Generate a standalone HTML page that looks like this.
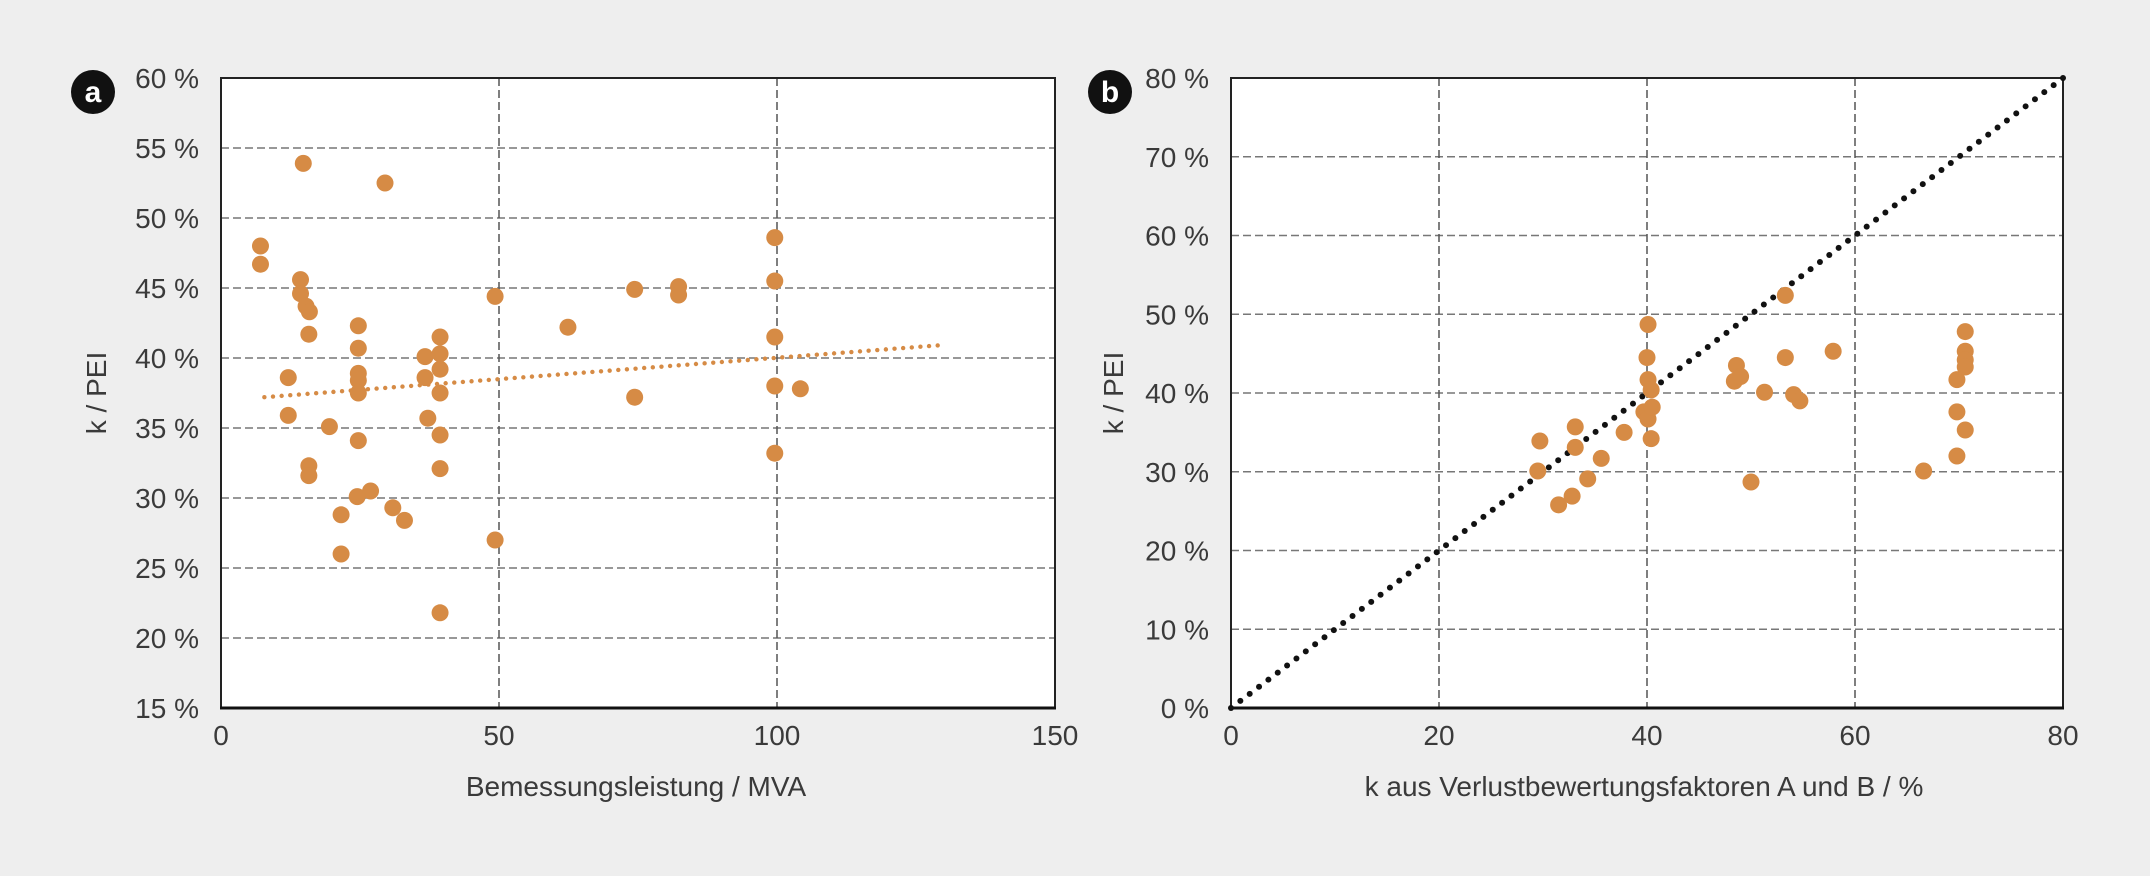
<!DOCTYPE html>
<html><head><meta charset="utf-8"><style>
html,body{margin:0;padding:0;background:#eeeeee;}
svg{display:block;}
text{font-family:"Liberation Sans","DejaVu Sans",sans-serif;fill:#3a3a3a;}
</style></head><body>
<svg id="chart" width="2150" height="876" viewBox="0 0 2150 876" xmlns="http://www.w3.org/2000/svg">
<rect width="2150" height="876" fill="#eeeeee"/>
<g id="ga"></g>
<g id="gb"></g>
</svg>
<script>
// Chart a data
const aX = [7.1,7.1,12.1,12.1,14.8,14.3,14.3,15.3,15.9,15.8,15.8,15.8,19.5,21.6,21.6,24.7,24.7,24.7,24.7,24.7,24.7,24.5,26.9,29.5,30.9,33.0,36.7,36.7,37.2,39.4,39.4,39.4,39.4,39.4,39.4,39.4,49.3,49.3,62.4,74.4,74.4,82.3,82.3,99.6,99.6,99.6,99.6,99.6,104.2];
const aY = [48.0,46.7,38.6,35.9,53.9,45.6,44.6,43.7,43.3,41.7,32.3,31.6,35.1,28.8,26.0,42.3,40.7,38.9,38.4,37.5,34.1,30.1,30.5,52.5,29.3,28.4,40.1,38.6,35.7,41.5,40.3,39.2,37.5,34.5,32.1,21.8,44.4,27.0,42.2,44.9,37.2,45.1,44.5,48.6,45.5,41.5,38.0,33.2,37.8];
const aTrendX = [7.8,128.9];
const aTrendY = [37.2,40.9];
const aXTicks = [0,50,100,150];
const aYTicks = [15,20,25,30,35,40,45,50,55,60];
// Chart b data
const bX = [29.7,29.5,31.5,32.8,33.1,33.1,34.3,35.6,37.8,40.1,40.0,40.1,40.4,39.7,40.1,40.5,40.4,48.6,48.4,49.0,50.0,51.3,53.3,53.3,54.1,54.7,57.9,66.6,69.8,69.8,69.8,70.6,70.6,70.6,70.6,70.6];
const bY = [33.9,30.1,25.8,26.9,35.7,33.1,29.1,31.7,35.0,48.7,44.5,41.7,40.4,37.6,36.7,38.2,34.2,43.5,41.5,42.1,28.7,40.1,52.4,44.5,39.8,39.0,45.3,30.1,41.7,37.6,32.0,47.8,45.3,44.2,43.3,35.3];
const bDiagX = [0,80];
const bDiagY = [0,80];
const bXTicks = [0,20,40,60,80];
const bYTicks = [0,10,20,30,40,50,60,70,80];

const NS="http://www.w3.org/2000/svg";
function mk(tag,attrs,parent){const e=document.createElementNS(NS,tag);for(const k in attrs)e.setAttribute(k,attrs[k]);parent.appendChild(e);return e;}

function draw(g,cfg){
  const {L,R,T,B,xmin,xmax,ymin,ymax}=cfg;
  const sx=v=>L+(v-xmin)/(xmax-xmin)*(R-L);
  const sy=v=>B-(v-ymin)/(ymax-ymin)*(B-T);
  const plot=mk('rect',{x:L,y:T,width:R-L,height:B-T,fill:'#fff'},g);
  
  
  cfg.yt.forEach(v=>{
    if(v!==ymin&&v!==ymax){const l=mk('line',{x1:L,x2:R,y1:sy(v),y2:sy(v),stroke:'#777','stroke-width':1.5,'stroke-dasharray':'8 4'},g);
    
    }
    const t=mk('text',{x:L-22,y:sy(v)+10,'text-anchor':'end','font-size':28},g);
    t.textContent=v+' %';
    
    
  });
  cfg.xt.forEach(v=>{
    if(v!==xmin&&v!==xmax){const l=mk('line',{x1:sx(v),x2:sx(v),y1:T,y2:B,stroke:'#555','stroke-width':1.5,'stroke-dasharray':'8 4'},g);
    
    }
    const t=mk('text',{x:sx(v),y:745,'text-anchor':'middle','font-size':28},g);
    t.textContent=v;
    
    
  });
  const fr=mk('rect',{x:L,y:T,width:R-L,height:B-T,fill:'none',stroke:'#222','stroke-width':2},g);
  
  
  const bl=mk('line',{x1:L-1,x2:R+1,y1:B,y2:B,stroke:'#111','stroke-width':3},g);
  
  
  // line
  const lx=cfg.lineX, ly=cfg.lineY;
  const x1=sx(lx[0]),y1=sy(ly[0]),x2=sx(lx[1]),y2=sy(ly[1]);
  const len=Math.hypot(x2-x1,y2-y1);const n=Math.round(len/cfg.step);
  const lg=mk('g',{},g);
  
  
  for(let i=0;i<=n;i++){const f=i/n;mk('circle',{cx:x1+(x2-x1)*f,cy:y1+(y2-y1)*f,r:cfg.lr,fill:cfg.lc},lg);}
  const pg=mk('g',{},g);
  
  
  cfg.px.forEach((v,i)=>{
    const c=mk('circle',{cx:sx(v),cy:sy(cfg.py[i]),r:8.5,fill:'#d68b45'},pg);
    
    
  });
  const bc=mk('circle',{cx:cfg.bx,cy:92,r:22,fill:'#111'},g);
  
  
  const bt=mk('text',{x:cfg.bx,y:102,'text-anchor':'middle','font-size':30,'font-weight':'bold',style:'fill:#fff'},g);
  bt.textContent=cfg.badge;
  
  
  const yt=mk('text',{x:0,y:0,'text-anchor':'middle','font-size':28,transform:`translate(${cfg.ytx},${(T+B)/2}) rotate(-90)`},g);
  yt.textContent='k / PEI';
  
  
  const xt=mk('text',{x:cfg.xtx,y:796,'text-anchor':'middle','font-size':28},g);
  xt.textContent=cfg.xtitle;
  
  
}
draw(document.getElementById('ga'),{L:221,R:1055,T:78,B:708,xmin:0,xmax:150,ymin:15,ymax:60,xt:aXTicks,yt:aYTicks,px:aX,py:aY,lineX:aTrendX,lineY:aTrendY,step:8.7,lr:2.2,lc:'#d68b45',lineName:'trend-line',bx:93,badge:'a',ytx:106,xtx:636,xtitle:'Bemessungsleistung / MVA'});
draw(document.getElementById('gb'),{L:1231,R:2063,T:78,B:708,xmin:0,xmax:80,ymin:0,ymax:80,xt:bXTicks,yt:bYTicks,px:bX,py:bY,lineX:bDiagX,lineY:bDiagY,step:11.7,lr:3,lc:'#111',lineName:'identity-line',bx:1110,badge:'b',ytx:1123,xtx:1644,xtitle:'k aus Verlustbewertungsfaktoren A und B / %'});
</script>
</body></html>
